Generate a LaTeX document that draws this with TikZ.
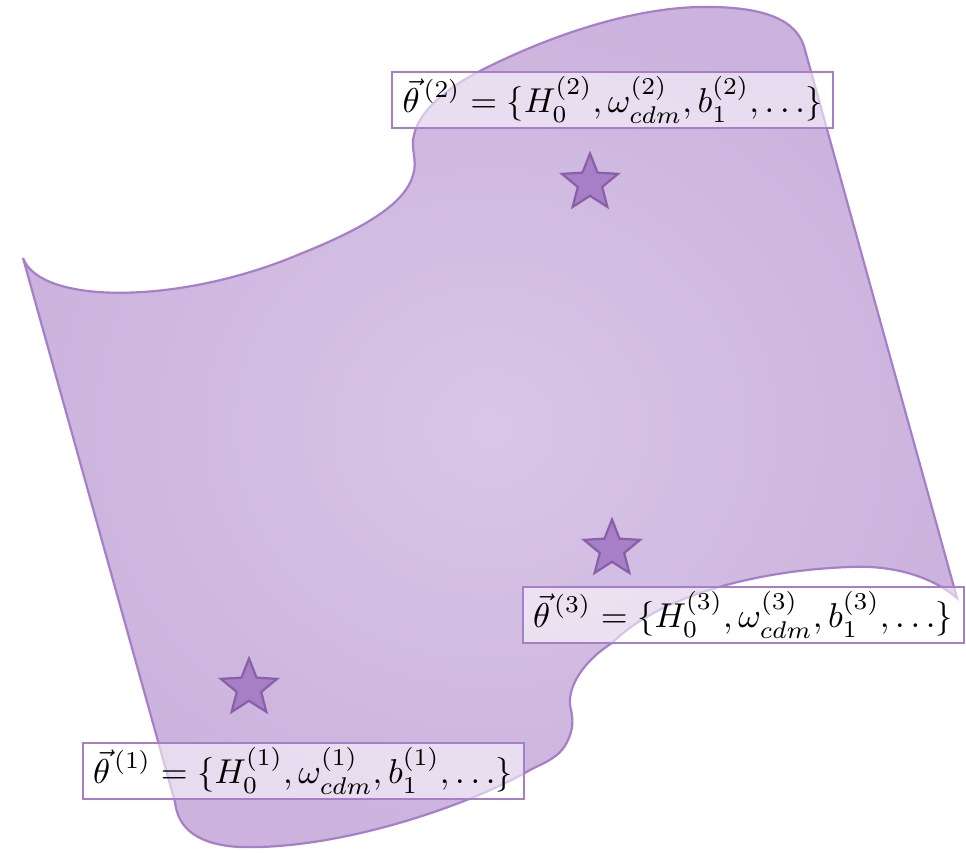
\documentclass[tikz,border=0pt]{standalone}
\usepackage{graphicx}
\usetikzlibrary{shapes.geometric}
\definecolor{sheetlight}{HTML}{D9C6E7}
\definecolor{sheetdark}{HTML}{CBB3DD}
\definecolor{edgecol}{HTML}{A77FC8}
\definecolor{starfill}{HTML}{A67FC6}
\definecolor{stardraw}{HTML}{8960A7}
\newcommand{\paramset}[1]{\scalebox{3.45}{${\smash{\vec{\theta}}\vphantom{\theta}\mkern2mu}^{(#1)} = \{H_0^{(#1)}, \omega_{cdm}^{(#1)}, b_1^{(#1)}, \ldots\}$}}
\tikzset{
  sheet/.style={draw=edgecol, line width=2.2pt, inner color=sheetlight, outer color=sheetdark},
  starnode/.style={star, star points=5, star point ratio=2.3, minimum size=59pt, inner sep=0pt,
    fill=starfill, draw=stardraw, line width=2.2pt},
  labelbox/.style={draw=edgecol, line width=2pt, fill=white, fill opacity=0.55, text opacity=1,
    minimum width=441pt, minimum height=56pt, inner sep=0pt}
}
\begin{document}
\begin{tikzpicture}[x=1pt,y=-1pt]
\useasboundingbox (0,0) rectangle (966,853);
\shadedraw[sheet]
  (23,258) .. controls (40,305) and (180,305) .. (300,254)
  .. controls (360,230) and (405,205) .. (413,175)
  .. controls (418,160) and (410,148) .. (414,135)
  .. controls (418,115) and (440,92) .. (478,72)
  .. controls (560,30) and (640,8) .. (700,7)
  .. controls (765,6) and (798,20) .. (805,50)
  -- (957,598)
  .. controls (930,575) and (890,565) .. (850,567)
  .. controls (760,570) and (660,595) .. (612,643)
  .. controls (585,660) and (568,685) .. (570,705)
  .. controls (572,715) and (575,725) .. (568,740)
  .. controls (560,758) and (545,762) .. (530,770)
  .. controls (470,805) and (340,850) .. (240,847)
  .. controls (200,845) and (178,830) .. (175,802)
  -- cycle;
\node[starnode] (s1) at (249,688) {};
\node[starnode] (s2) at (590,183) {};
\node[starnode] (s3) at (612,549) {};
\node[labelbox] (b2) at (612.5,100) {\paramset{2}};
\node[labelbox] (b3) at (743,615) {\paramset{3}};
\node[labelbox] (b1) at (303,771) {\paramset{1}};
\end{tikzpicture}
\end{document}
